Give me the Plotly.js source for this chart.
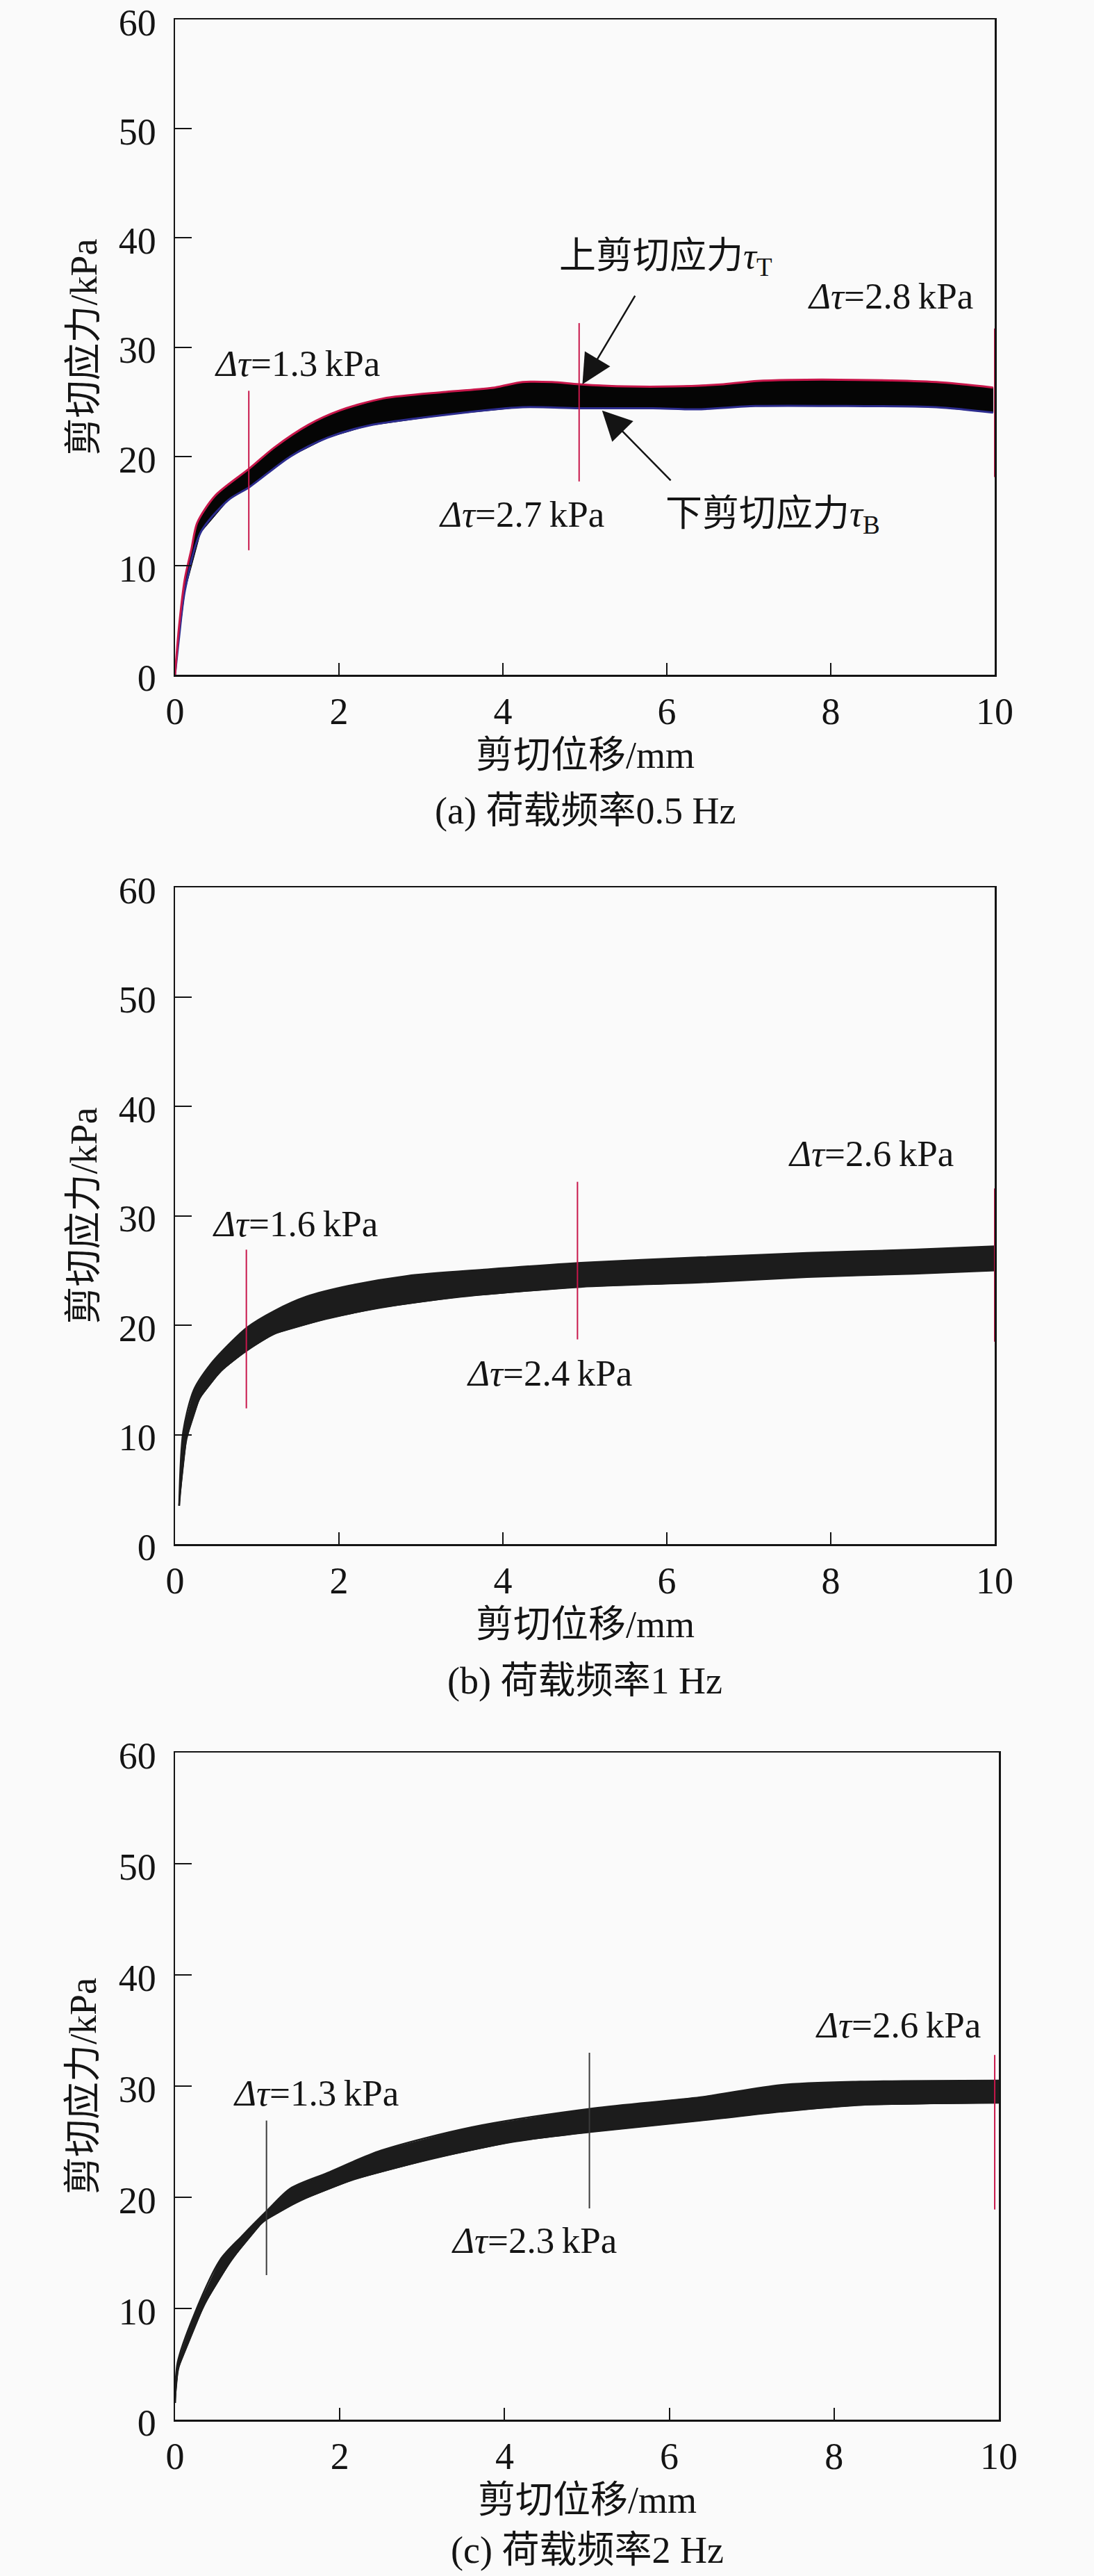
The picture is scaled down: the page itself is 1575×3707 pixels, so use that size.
<!DOCTYPE html>
<html>
<head>
<meta charset="utf-8">
<script src="https://cdn.plot.ly/plotly-3.0.1.min.js"></script>
<style>
  html, body { margin: 0; padding: 0; background: #fafafa; }
  #chart { width: 1575px; height: 3707px; }
</style>
</head>
<body>
<div id="chart"></div>
<script>
// ---------- DATA ----------
const xTicks = [0, 2, 4, 6, 8, 10];
const yTicks = [0, 10, 20, 30, 40, 50, 60];
const captions = ["(a) 荷载频率0.5 Hz", "(b) 荷载频率1 Hz", "(c) 荷载频率2 Hz"];

// (a) 0.5 Hz : upper (red) and lower (blue) envelopes
const aTopX = [0, 0.05, 0.12, 0.20, 0.27, 0.49, 0.91, 1.21, 1.63, 2.01, 2.54, 3.30, 3.90, 4.24, 4.60, 4.93, 5.50, 6.10, 6.69, 7.10, 7.50, 8.32, 9.29, 9.98];
const aTopY = [0, 4.5, 8.8, 11.5, 13.9, 16.4, 18.9, 20.8, 22.9, 24.2, 25.3, 25.9, 26.3, 26.8, 26.8, 26.6, 26.4, 26.4, 26.6, 26.9, 27.0, 27.0, 26.8, 26.3];
const aBotX = [0, 0.05, 0.12, 0.31, 0.65, 0.91, 1.41, 1.86, 2.35, 3.30, 4.24, 4.93, 5.83, 6.37, 7.08, 8.20, 9.29, 9.98];
const aBotY = [0, 3.5, 7.7, 13.0, 16.0, 17.2, 20.0, 21.7, 22.8, 23.8, 24.5, 24.4, 24.4, 24.3, 24.6, 24.6, 24.5, 24.0];
const aMarkX = [0.90, 4.93, 10.0];
const aMarkLo = [11.4, 17.7, 18.1];
const aMarkHi = [26.0, 32.2, 31.7];
const aLabelX = [1.49, 4.23, 8.73];
const aLabelY = [28.5, 14.7, 34.7];
const aDelta = ["1.3", "2.7", "2.8"];

// (b) 1 Hz
const bTopX = [0.05, 0.10, 0.23, 0.43, 0.69, 0.88, 1.21, 1.60, 2.12, 2.83, 3.81, 4.95, 6.41, 7.71, 9.01, 10];
const bTopY = [3.5, 10.3, 14.1, 16.4, 18.5, 19.8, 21.3, 22.6, 23.6, 24.5, 25.1, 25.7, 26.2, 26.6, 26.9, 27.2];
const bBotX = [0.05, 0.14, 0.30, 0.56, 0.88, 1.21, 1.86, 2.51, 3.49, 4.95, 6.41, 7.71, 9.01, 10];
const bBotY = [3.5, 9.6, 13.3, 15.8, 17.7, 19.2, 20.6, 21.6, 22.6, 23.5, 23.9, 24.4, 24.7, 25.0];
const bMarkX = [0.87, 4.91, 10.0];
const bMarkLo = [12.4, 18.7, 18.5];
const bMarkHi = [26.9, 33.1, 32.5];
const bLabelX = [1.47, 4.57, 8.49];
const bLabelY = [29.3, 15.6, 35.7];
const bDelta = ["1.6", "2.4", "2.6"];

// (c) 2 Hz
const cTopX = [0, 0.03, 0.23, 0.55, 0.81, 1.13, 1.40, 1.85, 2.50, 3.60, 5.08, 6.38, 7.35, 8.32, 10];
const cTopY = [1.5, 5.1, 9.4, 14.4, 16.5, 18.9, 20.8, 22.2, 24.2, 26.3, 28.0, 29.0, 30.1, 30.4, 30.5];
const cBotX = [0, 0.04, 0.36, 0.69, 1.07, 1.52, 2.17, 3.14, 4.11, 5.08, 6.38, 7.35, 8.32, 10];
const cBotY = [1.5, 4.6, 10.4, 14.4, 17.8, 19.7, 21.6, 23.5, 25.0, 25.9, 26.9, 27.7, 28.3, 28.5];
const cMarkX = [1.11, 5.03, 9.95];
const cMarkLo = [13.0, 19.0, 18.9];
const cMarkHi = [26.9, 33.0, 32.8];
const cLabelX = [1.71, 4.36, 8.78];
const cLabelY = [29.4, 16.1, 35.5];
const cDelta = ["1.3", "2.3", "2.6"];

// arrows in (a)
const arrowText = ["上剪切应力<i>τ</i><sub>T</sub>", "下剪切应力<i>τ</i><sub>B</sub>"];
const arrowTextX = [5.99, 7.29];
const arrowTextY = [38.1, 14.5];
const arrowHeadX = [4.97, 5.21];
const arrowHeadY = [26.6, 24.2];
const arrowTailX = [5.62, 6.06];
const arrowTailY = [34.8, 17.7];

// ---------- STYLE ----------
const FONT = "'Liberation Serif', 'Noto Sans CJK SC', serif";
const INK = "#141414";
const RED = "#c8174b";
const BLUE = "#2c2c8e";
const GREY = "#3a3a3a";

const panels = [
  { top: [aTopX, aTopY], bot: [aBotX, aBotY], mark: [aMarkX, aMarkLo, aMarkHi],
    markColor: [RED, RED, RED], label: [aLabelX, aLabelY, aDelta], edges: true,
    band: "#050505", xdom: [252, 1432], ydom: [28, 971], capShift: 196 },
  { top: [bTopX, bTopY], bot: [bBotX, bBotY], mark: [bMarkX, bMarkLo, bMarkHi],
    markColor: [RED, RED, RED], label: [bLabelX, bLabelY, bDelta], edges: false,
    band: "#1c1c1c", xdom: [252, 1432], ydom: [1277, 2222], capShift: 197 },
  { top: [cTopX, cTopY], bot: [cBotX, cBotY], mark: [cMarkX, cMarkLo, cMarkHi],
    markColor: [GREY, GREY, RED], label: [cLabelX, cLabelY, cDelta], edges: false,
    band: "#1c1c1c", xdom: [252, 1438], ydom: [2522, 3482], capShift: 188 }
];

const W = 1575, H = 3707;
const traces = [];
const annotations = [];
const layout = {
  width: W, height: H,
  margin: { l: 0, r: 0, t: 0, b: 0 },
  paper_bgcolor: "#fafafa",
  plot_bgcolor: "#fafafa",
  showlegend: false,
  font: { family: FONT, size: 53, color: INK }
};

function line(x, y, xa, ya, color, width, shape) {
  return { x: x, y: y, xaxis: xa, yaxis: ya, type: "scatter", mode: "lines",
    line: { color: color, width: width, shape: shape || "linear", smoothing: 0.8 },
    hoverinfo: "skip" };
}

panels.forEach((p, i) => {
  const n = i === 0 ? "" : String(i + 1);
  const xa = "x" + n, ya = "y" + n;

  // band between the two envelopes
  const [tx, ty] = p.top, [bx, by] = p.bot;
  const band = line(tx.concat(bx.slice().reverse()), ty.concat(by.slice().reverse()),
    xa, ya, p.band, 1);
  band.fill = "toself";
  band.fillcolor = p.band;
  traces.push(band);
  if (p.edges) {
    traces.push(line(bx, by, xa, ya, BLUE, 3, "spline"));
    traces.push(line(tx, ty, xa, ya, RED, 3, "spline"));
  } else {
    traces.push(line(bx, by, xa, ya, p.band, 2.5, "spline"));
    traces.push(line(tx, ty, xa, ya, p.band, 2.5, "spline"));
  }

  // vertical Δτ markers
  const [mx, lo, hi] = p.mark;
  mx.forEach((x, k) => {
    traces.push(line([x, x], [lo[k], hi[k]], xa, ya, p.markColor[k], 2));
  });

  const [lx, ly, lv] = p.label;
  lx.forEach((x, k) => {
    annotations.push({ xref: xa, yref: ya, x: x, y: ly[k], showarrow: false,
      xanchor: "center", yanchor: "middle",
      text: "<i>Δτ</i>=" + lv[k] + "\u2009kPa", font: { size: 53 } });
  });

  const axBase = { showline: true, mirror: true, linecolor: INK, linewidth: 2.5,
    ticks: "inside", tickcolor: INK, tickwidth: 2, showgrid: false, zeroline: false,
    ticklabeloverflow: "allow",
    tickfont: { family: FONT, size: 54, color: INK } };

  layout["xaxis" + n] = Object.assign({}, axBase, {
    domain: [p.xdom[0] / W, p.xdom[1] / W], anchor: ya,
    range: [0, 10], tickvals: xTicks, ticklen: 17, ticklabelstandoff: 4
  });
  layout["yaxis" + n] = Object.assign({}, axBase, {
    domain: [1 - p.ydom[1] / H, 1 - p.ydom[0] / H], anchor: xa,
    range: [0, 60], tickvals: yTicks, ticklen: 24, ticklabelstandoff: 14,
    ticklabelshift: 4
  });

  // axis titles and caption
  annotations.push({ xref: xa + " domain", yref: ya + " domain", x: 0, y: 0.5,
    xshift: -132, xanchor: "center", yanchor: "middle", textangle: -90,
    showarrow: false, text: "剪切应力/kPa", font: { size: 54 } });
  annotations.push({ xref: xa + " domain", yref: ya + " domain", x: 0.5, y: 0,
    yshift: -116, xanchor: "center", yanchor: "middle",
    showarrow: false, text: "剪切位移/mm", font: { size: 54 } });
  annotations.push({ xref: xa + " domain", yref: ya + " domain", x: 0.5, y: 0,
    yshift: -p.capShift, xanchor: "center", yanchor: "middle",
    showarrow: false, text: captions[i], font: { size: 54 } });
});

// names of the two shear stresses in (a) with their arrows
arrowText.forEach((t, k) => {
  annotations.push({ xref: "x", yref: "y", x: arrowTextX[k], y: arrowTextY[k],
    xanchor: "center", yanchor: "middle",
    showarrow: false, text: t, font: { size: 53, color: INK } });
  annotations.push({ xref: "x", yref: "y", axref: "x", ayref: "y",
    x: arrowHeadX[k], y: arrowHeadY[k], ax: arrowTailX[k], ay: arrowTailY[k],
    text: "", showarrow: true, arrowhead: 2, arrowsize: 3.4, arrowwidth: 2.5,
    arrowcolor: INK });
});

layout.annotations = annotations;

Plotly.newPlot("chart", traces, layout, { staticPlot: true });
</script>
</body>
</html>
